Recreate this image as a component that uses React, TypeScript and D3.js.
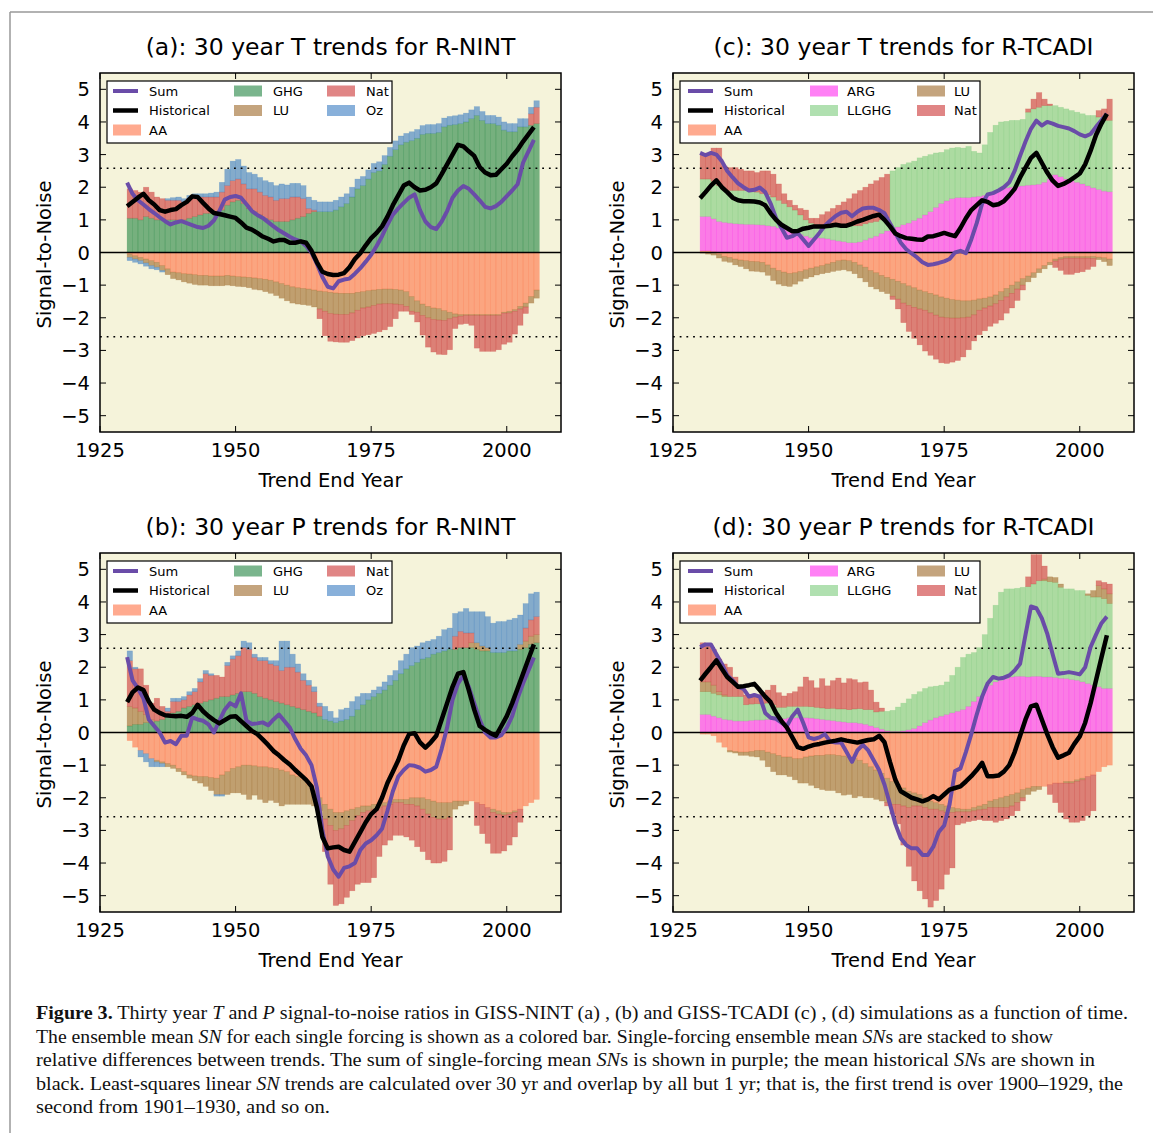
import React from 'react';
import * as d3 from 'd3';

// trend end years
const years = d3.range(1930, 2006);

// (a) T, R-NINT
const aAA = [
  -0.05, -0.1, -0.15, -0.2, -0.25, -0.3, -0.4, -0.5, -0.6, -0.62,
  -0.65, -0.66, -0.68, -0.7, -0.7, -0.72, -0.72, -0.72, -0.7, -0.72,
  -0.74, -0.75, -0.76, -0.78, -0.8, -0.82, -0.85, -0.9, -0.95, -1.0,
  -1.05, -1.08, -1.1, -1.12, -1.15, -1.18, -1.2, -1.22, -1.24, -1.25,
  -1.25, -1.25, -1.22, -1.2, -1.17, -1.15, -1.13, -1.12, -1.12, -1.13,
  -1.15, -1.2, -1.35, -1.48, -1.58, -1.65, -1.7, -1.72, -1.78, -1.83,
  -1.88, -1.9, -1.9, -1.9, -1.9, -1.9, -1.9, -1.9, -1.9, -1.83,
  -1.8, -1.75, -1.65, -1.55, -1.35, -1.15,
];
const aGHG = [
  1.05, 1.05, 1.0, 1.1, 1.05, 1.0, 1.0, 1.0, 1.0, 1.0,
  1.0, 1.05, 1.1, 1.15, 1.2, 1.2, 1.2, 1.3, 1.45, 1.55,
  1.6, 1.5, 1.35, 1.25, 1.15, 1.05, 1.0, 0.95, 0.95, 0.95,
  1.0, 1.05, 1.1, 1.2, 1.25, 1.25, 1.25, 1.25, 1.3, 1.4,
  1.5, 1.7, 1.95, 2.05, 2.25, 2.45, 2.5, 2.7, 2.95, 3.15,
  3.3, 3.38, 3.43, 3.5, 3.62, 3.65, 3.65, 3.68, 3.85, 3.9,
  3.92, 3.95, 4.0, 4.1, 4.2, 4.05, 3.95, 3.95, 3.9, 3.75,
  3.7, 3.7, 3.85, 3.85, 3.9, 3.95,
];
const aLU = [
  -0.1, -0.1, -0.1, -0.12, -0.15, -0.15, -0.15, -0.18, -0.2, -0.22,
  -0.25, -0.28, -0.3, -0.3, -0.3, -0.3, -0.3, -0.3, -0.3, -0.3,
  -0.3, -0.3, -0.32, -0.35, -0.35, -0.38, -0.4, -0.42, -0.45, -0.48,
  -0.5, -0.5, -0.5, -0.5, -0.52, -0.55, -0.6, -0.65, -0.65, -0.65,
  -0.65, -0.6, -0.55, -0.5, -0.5, -0.48, -0.45, -0.45, -0.45, -0.45,
  -0.45, -0.45, -0.45, -0.35, -0.35, -0.35, -0.35, -0.35, -0.3, -0.2,
  -0.1, -0.05, -0.03, -0.03, -0.03, -0.03, -0.03, -0.03, -0.03, -0.03,
  -0.05, -0.05, -0.08, -0.12, -0.2, -0.25,
];
const aNat = [
  0.9, 0.85, 0.85, 0.9, 0.8, 0.7, 0.65, 0.6, 0.6, 0.6,
  0.55, 0.6, 0.6, 0.55, 0.5, 0.5, 0.5, 0.55, 0.6, 0.65,
  0.65, 0.6, 0.6, 0.7, 0.7, 0.7, 0.7, 0.65, 0.7, 0.7,
  0.7, 0.65, 0.55, 0.15, 0.05, -0.3, -0.75, -0.85, -0.85, -0.85,
  -0.85, -0.85, -0.85, -0.85, -0.85, -0.85, -0.85, -0.8, -0.7, -0.45,
  -0.2, -0.15, -0.1, -0.3, -0.6, -0.9, -1.0, -1.05, -1.05, -0.95,
  -0.35, -0.25, -0.25, -0.3, -1.0, -1.1, -1.1, -1.1, -1.05, -0.95,
  -0.9, -0.7, -0.5, -0.2, 0.35, 0.5,
];
const aOz = [
  -0.1, -0.1, -0.1, -0.1, -0.1, -0.08, -0.05, 0.05, 0.08, 0.1,
  0.1, 0.1, 0.1, 0.1, 0.1, 0.12, 0.15, 0.3, 0.5, 0.6,
  0.6, 0.55, 0.5, 0.45, 0.45, 0.45, 0.45, 0.45, 0.45, 0.42,
  0.42, 0.42, 0.4, 0.35, 0.3, 0.3, 0.3, 0.3, 0.3, 0.3,
  0.3, 0.3, 0.3, 0.28, 0.28, 0.28, 0.28, 0.27, 0.27, 0.27,
  0.27, 0.27, 0.27, 0.27, 0.27, 0.27, 0.27, 0.27, 0.27, 0.27,
  0.27, 0.27, 0.27, 0.27, 0.27, 0.27, 0.25, 0.25, 0.25, 0.25,
  0.25, 0.25, 0.25, 0.25, 0.2, 0.2,
];
const aSum = [
  2.14, 1.8, 1.6, 1.47, 1.33, 1.21, 1.08, 0.96, 0.86, 0.92,
  0.96, 0.9, 0.84, 0.78, 0.75, 0.82, 0.98, 1.27, 1.62, 1.7,
  1.73, 1.68, 1.48, 1.27, 1.15, 1.06, 0.93, 0.8, 0.68, 0.58,
  0.48, 0.4, 0.34, 0.2, 0.0, -0.35, -0.75, -1.05, -1.1, -0.88,
  -0.83, -0.8, -0.65, -0.48, -0.28, -0.07, 0.2, 0.5, 0.85, 1.16,
  1.35, 1.52, 1.68, 1.78, 1.3, 0.95, 0.78, 0.72, 0.95, 1.27,
  1.68, 1.9, 2.04, 1.95, 1.78, 1.6, 1.4, 1.35, 1.42, 1.55,
  1.73, 1.9, 2.09, 2.75, 3.1, 3.45,
];
const aHist = [
  1.42, 1.55, 1.68, 1.8, 1.6, 1.47, 1.3, 1.25, 1.3, 1.33,
  1.45, 1.55, 1.72, 1.7, 1.52, 1.35, 1.21, 1.18, 1.14, 1.1,
  1.06, 0.92, 0.76, 0.7, 0.6, 0.49, 0.42, 0.34, 0.38, 0.38,
  0.3, 0.3, 0.34, 0.3, 0.05, -0.3, -0.59, -0.66, -0.69, -0.68,
  -0.63, -0.45, -0.2, -0.02, 0.22, 0.44, 0.6, 0.8, 1.1, 1.45,
  1.75, 2.05, 2.14, 2.0, 1.9, 1.92, 2.0, 2.12, 2.4, 2.7,
  3.0, 3.3, 3.25, 3.1, 2.96, 2.62, 2.45, 2.37, 2.38, 2.55,
  2.72, 2.95, 3.15, 3.4, 3.62, 3.84,
];

// (b) P, R-NINT
const bAA = [
  -0.25, -0.45, -0.55, -0.65, -0.8, -0.85, -0.9, -0.95, -1.0, -1.1,
  -1.2, -1.3, -1.33, -1.35, -1.35, -1.38, -1.4, -1.3, -1.2, -1.1,
  -1.05, -1.0, -1.0, -1.02, -1.05, -1.05, -1.08, -1.1, -1.15, -1.2,
  -1.3, -1.35, -1.45, -1.6, -1.8, -2.0, -2.2, -2.35, -2.45, -2.45,
  -2.4, -2.35, -2.3, -2.25, -2.25, -2.2, -2.2, -2.15, -2.1, -2.05,
  -2.05, -2.05, -2.0, -2.0, -2.0, -2.05, -2.1, -2.15, -2.15, -2.15,
  -2.1, -2.1, -2.1, -2.1, -2.15, -2.2, -2.3, -2.35, -2.4, -2.45,
  -2.45, -2.4, -2.35, -2.25, -2.15, -2.05,
];
const bGHG = [
  0.2, 0.25, 0.25, 0.3, 0.3, 0.35, 0.4, 0.5, 0.6, 0.65,
  0.75, 0.8, 0.85, 0.9, 0.95, 1.0, 1.05, 1.1, 1.1, 1.15,
  1.2, 1.25, 1.25, 1.2, 1.1, 1.05, 1.0, 0.95, 0.9, 0.85,
  0.8, 0.75, 0.7, 0.65, 0.6, 0.5, 0.4, 0.35, 0.3, 0.35,
  0.4, 0.5, 0.7, 0.85, 1.0, 1.1, 1.2, 1.3, 1.45, 1.6,
  1.8, 1.95, 2.05, 2.15, 2.25, 2.3, 2.4, 2.45, 2.5, 2.55,
  2.55, 2.6, 2.6, 2.6, 2.55, 2.5, 2.5, 2.45, 2.45, 2.45,
  2.5, 2.5, 2.55, 2.6, 2.7, 2.75,
];
const bLU = [
  0.6, 0.5, 0.4, 0.25, 0.1, -0.05, -0.05, -0.1, -0.1, -0.1,
  -0.1, -0.1, -0.15, -0.2, -0.3, -0.4, -0.5, -0.6, -0.7, -0.75,
  -0.8, -0.9, -1.05, -0.9, -1.0, -1.1, -1.0, -1.05, -1.1, -1.0,
  -0.9, -0.85, -0.75, -0.6, -0.45, -0.4, -0.45, -0.5, -0.55, -0.5,
  -0.45, -0.35, -0.25, -0.2, -0.15, -0.15, -0.1, -0.1, -0.1, -0.1,
  -0.1, -0.15, -0.2, -0.25, -0.35, -0.45, -0.5, -0.5, -0.5, -0.45,
  -0.25, -0.15, -0.1, 0.15, 0.2, 0.15, 0.1, -0.1, -0.1, -0.08,
  -0.05, -0.05, 0.15, 0.2, 0.25, 0.25,
];
const bNat = [
  1.4, 1.2, 1.3, 0.9, 0.5, 0.7, 0.4, 0.15, 0.35, 0.3,
  0.25, 0.35, 0.4, 0.65, 0.85, 0.75, 0.7, 0.6, 0.95, 1.1,
  1.15, 1.35, 1.3, 1.1, 1.1, 1.15, 1.1, 1.1, 1.0, 1.15,
  1.2, 1.1, 0.9, 0.8, 0.65, 0.3, -1.0, -1.8, -2.3, -2.3,
  -2.2, -2.15, -2.1, -2.15, -2.2, -2.1, -1.5, -1.2, -1.1, -1.0,
  -1.0, -1.0, -1.1, -1.25, -1.3, -1.4, -1.4, -1.35, -1.3, -1.0,
  0.4, 0.5, 0.45, 0.3, -0.7, -0.9, -1.1, -1.25, -1.2, -1.1,
  -0.95, -0.75, -0.4, 0.4, 0.5, 0.55,
];
const bOz = [
  0.3, 0.05, -0.2, -0.25, -0.25, -0.15, -0.1, 0.1, 0.1, 0.1,
  0.1, 0.1, 0.1, 0.1, 0.1, 0.05, -0.05, -0.05, 0.1, 0.1,
  0.15, 0.2, 0.2, 0.1, 0.1, 0.1, 0.1, 0.15, 0.9, 0.8,
  0.4, 0.25, 0.2, 0.15, 0.15, 0.1, 0.4, 0.3, 0.15, 0.35,
  0.35, 0.45, 0.4, 0.35, 0.2, 0.2, 0.2, 0.25, 0.3, 0.3,
  0.4, 0.45, 0.55, 0.5, 0.5, 0.5, 0.45, 0.5, 0.65, 0.65,
  0.7, 0.6, 0.75, 0.65, 0.95, 1.05, 0.95, 0.9, 0.95, 0.95,
  0.95, 1.0, 0.9, 0.75, 0.8, 0.75,
];
const bSum = [
  2.31, 1.6, 1.35, 1.05, 0.4, 0.2, 0.0, -0.31, -0.26, -0.36,
  -0.1, -0.1, 0.46, 0.4, 0.36, 0.25, 0.0, 0.36, 0.7, 0.9,
  0.8, 1.2, 0.36, 0.26, 0.28, 0.31, 0.22, 0.4, 0.55, 0.35,
  0.15, -0.2, -0.5, -0.7, -1.0, -1.7, -3.0, -3.8, -4.2, -4.42,
  -4.15, -4.1, -4.0, -3.6, -3.4, -3.3, -3.15, -2.95, -2.4, -1.8,
  -1.35, -1.15, -1.0, -1.02, -1.08, -1.2, -1.15, -1.05, -0.5, 0.15,
  1.0, 1.5, 1.75, 1.4, 0.9, 0.4, 0.0, -0.15, -0.15, -0.08,
  0.15, 0.5, 1.05, 1.5, 1.9, 2.3,
];
const bHist = [
  0.93, 1.23, 1.38, 1.3, 0.95, 0.7, 0.6, 0.53, 0.51, 0.5,
  0.51, 0.48, 0.6, 0.85, 0.65, 0.5, 0.38, 0.28, 0.38, 0.48,
  0.5, 0.35, 0.2, 0.05, -0.05, -0.21, -0.38, -0.57, -0.7, -0.85,
  -0.98, -1.15, -1.3, -1.45, -1.65, -2.31, -3.2, -3.55, -3.52, -3.5,
  -3.6, -3.65, -3.35, -3.05, -2.75, -2.5, -2.35, -2.0, -1.55, -1.2,
  -0.85, -0.4, -0.05, -0.02, -0.3, -0.46, -0.3, -0.1, 0.4, 0.9,
  1.4, 1.8, 1.85, 1.3, 0.7, 0.2, 0.08, -0.02, -0.1, 0.2,
  0.5, 0.9, 1.35, 1.8, 2.25, 2.7,
];

// (c) T, R-TCADI
const cAA = [
  0.05, 0.05, 0.03, -0.05, -0.12, -0.15, -0.2, -0.23, -0.25, -0.27,
  -0.28, -0.3, -0.38, -0.48, -0.55, -0.6, -0.64, -0.62, -0.58, -0.53,
  -0.48, -0.44, -0.4, -0.35, -0.3, -0.25, -0.23, -0.25, -0.3, -0.38,
  -0.45, -0.55, -0.62, -0.7, -0.76, -0.82, -0.88, -0.95, -1.02, -1.08,
  -1.15, -1.2, -1.25, -1.3, -1.36, -1.4, -1.44, -1.46, -1.48, -1.48,
  -1.46, -1.42, -1.4, -1.36, -1.3, -1.2, -1.1, -1.0, -0.9, -0.8,
  -0.72, -0.62, -0.5, -0.4, -0.3, -0.2, -0.15, -0.12, -0.12, -0.12,
  -0.12, -0.12, -0.12, -0.14, -0.16, -0.2,
];
const cARG = [
  1.05, 1.05, 1.0, 0.95, 0.92, 0.9, 0.88, 0.87, 0.86, 0.86,
  0.85, 0.84, 0.82, 0.8, 0.75, 0.7, 0.65, 0.6, 0.55, 0.5,
  0.45, 0.45, 0.44, 0.42, 0.38, 0.35, 0.33, 0.3, 0.3, 0.32,
  0.38, 0.44, 0.5, 0.58, 0.66, 0.72, 0.78, 0.85, 0.9, 0.98,
  1.05, 1.15, 1.25, 1.38, 1.5, 1.58, 1.65, 1.68, 1.68, 1.68,
  1.7, 1.72, 1.75, 1.78, 1.85, 1.92, 1.98, 2.0, 2.02, 2.04,
  2.06, 2.07, 2.09, 2.15, 2.25, 2.38, 2.32, 2.25, 2.2, 2.15,
  2.1, 2.04, 1.98, 1.93, 1.88, 1.86,
];
const cLLGHG = [
  1.15, 1.15, 1.15, 1.1, 1.0, 1.0, 1.02, 1.03, 1.04, 1.0,
  1.0, 0.96, 0.95, 0.9, 0.85, 0.8, 0.75, 0.7, 0.6, 0.5,
  0.45, 0.4, 0.4, 0.42, 0.45, 0.48, 0.5, 0.52, 0.52, 0.5,
  0.5, 0.48, 0.45, 0.42, 0.4, 1.78, 1.82, 1.85, 1.85, 1.82,
  1.85, 1.8, 1.75, 1.67, 1.57, 1.57, 1.55, 1.54, 1.52, 1.57,
  1.4, 1.33, 1.55, 1.9, 2.05, 2.08, 2.04, 2.05, 2.03, 2.04,
  2.24, 2.33, 2.36, 2.35, 2.25, 2.12, 2.13, 2.15, 2.15, 2.15,
  2.15, 2.16, 2.22, 2.22, 2.17, 2.19,
];
const cLU = [
  -0.02, -0.05, -0.08, -0.12, -0.15, -0.15, -0.18, -0.2, -0.25, -0.3,
  -0.3, -0.3, -0.32, -0.38, -0.42, -0.42, -0.4, -0.35, -0.3, -0.27,
  -0.27, -0.25, -0.25, -0.27, -0.28, -0.3, -0.3, -0.32, -0.35, -0.4,
  -0.45, -0.5, -0.5, -0.5, -0.5, -0.52, -0.55, -0.6, -0.6, -0.6,
  -0.58, -0.57, -0.6, -0.62, -0.62, -0.6, -0.57, -0.55, -0.52, -0.5,
  -0.45, -0.35, -0.3, -0.28, -0.27, -0.27, -0.26, -0.25, -0.22, -0.2,
  -0.18, -0.15, -0.12, -0.1, -0.08, -0.06, -0.05, -0.05, -0.05, -0.05,
  -0.05, -0.05, -0.06, -0.08, -0.12, -0.2,
];
const cNat = [
  0.75, 0.8, 1.02, 1.15, 0.73, 0.7, 0.7, 0.65, 0.6, 0.64,
  0.6, 0.7, 0.73, 0.7, 0.5, 0.3, 0.2, 0.15, 0.2, 0.3,
  0.15, 0.2, 0.32, 0.41, 0.52, 0.62, 0.72, 0.83, 0.98, 1.08,
  1.12, 1.18, 1.25, 1.3, 1.34, -0.1, -0.3, -0.6, -0.8, -0.95,
  -1.1, -1.25, -1.3, -1.35, -1.4, -1.4, -1.35, -1.3, -1.2, -1.0,
  -0.8, -0.75, -0.7, -0.62, -0.6, -0.6, -0.5, -0.45, -0.35, -0.15,
  0.1, 0.3, 0.45, 0.2, 0.05, -0.2, -0.35, -0.5, -0.5, -0.45,
  -0.42, -0.35, -0.25, 0.2, 0.35, 0.65,
];
const cSum = [
  3.05, 2.98, 3.05, 3.0, 2.8, 2.5, 2.3, 2.12, 2.0, 1.9,
  1.92, 1.99, 1.85, 1.5, 1.05, 0.75, 0.45, 0.5, 0.6, 0.4,
  0.2, 0.4, 0.6, 0.82, 0.98, 1.12, 1.22, 1.25, 1.11, 1.25,
  1.35, 1.37, 1.37, 1.3, 1.2, 0.9, 0.6, 0.3, 0.1, -0.03,
  -0.15, -0.3, -0.38, -0.36, -0.32, -0.27, -0.2, 0.0, 0.05, -0.02,
  0.4, 0.9, 1.5, 1.78, 1.82, 1.9, 2.0, 2.15, 2.5, 2.96,
  3.4, 3.79, 4.04, 3.89, 4.0, 3.95, 3.88, 3.84, 3.8, 3.72,
  3.62, 3.56, 3.63, 3.85, 4.05, 4.25,
];
const cHist = [
  1.66, 1.85, 2.05, 2.21, 2.0, 1.85, 1.68, 1.6, 1.57, 1.57,
  1.56, 1.53, 1.45, 1.2, 1.0, 0.85, 0.75, 0.65, 0.66, 0.73,
  0.76, 0.8, 0.8, 0.8, 0.82, 0.85, 0.82, 0.82, 0.88, 0.95,
  1.0, 1.06, 1.12, 1.16, 1.0, 0.8, 0.58, 0.5, 0.44, 0.42,
  0.4, 0.39, 0.49, 0.5, 0.55, 0.6, 0.55, 0.5, 0.75, 1.05,
  1.3, 1.45, 1.6, 1.55, 1.45, 1.48, 1.57, 1.75, 1.95, 2.3,
  2.6, 2.9, 3.05, 2.75, 2.45, 2.2, 2.04, 2.1, 2.19, 2.3,
  2.42, 2.7, 3.12, 3.6, 3.95, 4.25,
];

// (d) P, R-TCADI
const dAA = [
  -0.05, -0.05, -0.1, -0.3, -0.45, -0.55, -0.58, -0.6, -0.6, -0.58,
  -0.55, -0.55, -0.6, -0.65, -0.7, -0.75, -0.75, -0.8, -0.8, -0.75,
  -0.72, -0.7, -0.7, -0.68, -0.68, -0.7, -0.72, -0.75, -0.8, -0.85,
  -0.95, -1.05, -1.15, -1.25, -1.4, -1.5, -1.6, -1.7, -1.8, -1.85,
  -1.9, -2.0, -2.1, -2.15, -2.2, -2.25, -2.3, -2.33, -2.35, -2.35,
  -2.3, -2.25, -2.2, -2.1, -2.05, -2.0, -1.95, -1.9, -1.85, -1.75,
  -1.7, -1.65, -1.65, -1.65, -1.6, -1.55, -1.55, -1.5, -1.5, -1.45,
  -1.4, -1.35, -1.3, -1.2, -1.05, -1.0,
];
const dARG = [
  0.55, 0.55, 0.5, 0.45, 0.4, 0.38, 0.35, 0.35, 0.35, 0.37,
  0.38, 0.38, 0.4, 0.4, 0.42, 0.42, 0.45, 0.45, 0.45, 0.45,
  0.44, 0.42, 0.4, 0.38, 0.36, 0.34, 0.32, 0.3, 0.3, 0.28,
  0.25, 0.2, 0.15, 0.1, 0.05, 0.03, 0.03, 0.05, 0.08, 0.12,
  0.2, 0.3, 0.38, 0.45, 0.5, 0.55, 0.6, 0.65, 0.7, 0.8,
  0.95, 1.1, 1.3, 1.45, 1.55, 1.6, 1.65, 1.7, 1.72, 1.72,
  1.7, 1.72, 1.72, 1.7, 1.7, 1.68, 1.66, 1.65, 1.62, 1.6,
  1.55, 1.5, 1.45, 1.4, 1.35, 1.35,
];
const dLLGHG = [
  0.7, 0.7, 0.7, 0.7, 0.7, 0.72, 0.75, 0.75, 0.5, 0.5,
  0.5, 0.5, 0.5, 0.45, 0.35, 0.35, 0.35, 0.35, 0.35, 0.35,
  0.35, 0.35, 0.35, 0.35, 0.38, 0.38, 0.4, 0.4, 0.42, 0.45,
  0.45, 0.5, 0.48, 0.55, 0.6, 0.65, 0.75, 0.85, 0.95, 1.05,
  1.05, 1.05, 1.02, 0.97, 0.95, 1.0, 1.15, 1.35, 1.6, 1.6,
  1.5, 1.5, 1.7, 2.05, 2.35, 2.7, 2.75, 2.7, 2.7, 2.73,
  2.77, 2.83, 2.93, 2.95, 2.92, 2.92, 2.79, 2.75, 2.78, 2.75,
  2.8, 2.7, 2.7, 2.75, 2.75, 2.6,
];
const dLU = [
  0.3, 0.3, 0.25, 0.1, 0.05, -0.05, -0.05, -0.1, -0.1, -0.15,
  -0.2, -0.3, -0.45, -0.55, -0.6, -0.55, -0.6, -0.65, -0.75, -0.8,
  -0.9, -1.0, -1.05, -1.1, -1.1, -1.15, -1.2, -1.15, -1.2, -1.1,
  -1.05, -0.95, -0.9, -0.85, -0.75, -0.7, -0.6, -0.55, -0.5, -0.4,
  -0.35, -0.3, -0.25, -0.2, -0.2, -0.2, -0.15, -0.1, -0.08, -0.08,
  -0.1, -0.12, -0.15, -0.2, -0.25, -0.3, -0.35, -0.35, -0.3, -0.25,
  -0.2, -0.15, -0.1, 0.05, 0.15, 0.15, 0.1, -0.05, -0.05, -0.05,
  -0.05, 0.05, 0.2, 0.35, 0.3, 0.3,
];
const dNat = [
  1.2, 1.15, 1.1, 1.0, 0.95, 0.9, 0.6, 0.35, 0.3, 0.3,
  0.25, 0.35, 0.4, 0.6, 0.45, 0.35, 0.4, 0.45, 0.6, 0.9,
  0.8, 0.6, 0.9, 0.7, 0.85, 0.95, 0.8, 0.95, 0.9, 0.8,
  0.85, 0.6, 0.3, 0.1, -0.1, -0.3, -0.6, -1.2, -1.8, -2.3,
  -2.6, -2.8, -3.0, -2.8, -2.4, -1.9, -1.7, -0.4, -0.35, -0.3,
  -0.3, -0.3, -0.35, -0.4, -0.45, -0.4, -0.35, -0.3, -0.25, -0.1,
  0.3, 0.9, 0.8, 0.4, -0.3, -0.6, -0.9, -1.1, -1.2, -1.25,
  -1.25, -1.2, -1.1, 0.15, 0.2, 0.3,
];
const dSum = [
  2.62, 2.7, 2.7, 2.4, 2.11, 1.75, 1.6, 1.4, 1.34, 1.1,
  1.15, 1.1, 0.6, 0.45, 0.42, 0.3, 0.2, 0.5, 0.7, 0.3,
  -0.15, -0.2, -0.15, -0.05, -0.28, -0.31, -0.31, -0.6, -0.9, -0.55,
  -0.38, -0.55, -0.85, -1.15, -1.6, -2.2, -2.8, -3.24, -3.45, -3.55,
  -3.55, -3.75, -3.75, -3.5, -3.05, -2.85, -2.2, -1.18, -1.1, -0.6,
  -0.05, 0.55, 1.1, 1.5, 1.7, 1.65, 1.68, 1.75, 1.9, 2.11,
  3.0, 3.86, 3.81, 3.5, 3.03, 2.4, 1.8, 1.82, 1.85, 1.82,
  1.78, 2.0, 2.62, 3.0, 3.35, 3.55,
];
const dHist = [
  1.59, 1.8, 2.0, 2.21, 1.95, 1.7, 1.55, 1.4, 1.42, 1.45,
  1.49, 1.3, 1.1, 0.93, 0.6, 0.35, 0.15, -0.15, -0.45, -0.5,
  -0.43, -0.38, -0.35, -0.31, -0.28, -0.25, -0.21, -0.25, -0.28, -0.31,
  -0.27, -0.23, -0.21, -0.1, -0.3, -0.9, -1.45, -1.8, -1.9, -2.0,
  -2.05, -2.11, -2.05, -1.95, -2.05, -1.9, -1.75, -1.7, -1.65, -1.5,
  -1.34, -1.15, -0.93, -1.34, -1.34, -1.32, -1.2, -1.0, -0.6, -0.1,
  0.4, 0.8, 0.85, 0.4, -0.05, -0.45, -0.77, -0.7, -0.62, -0.35,
  -0.12, 0.3, 0.9, 1.6, 2.3, 2.98,
];

const colors: Record<string, string> = {
  AA: '#ff7144',
  GHG: '#218441',
  LU: '#9d6728',
  Nat: '#cb3434',
  Oz: '#397bc1',
  ARG: '#ff2bee',
  LLGHG: '#7bcb7b',
};
const sumColor = '#6a4ca8';
const bgColor = '#f5f3da';
const font = 'DejaVu Sans';

interface Series {
  name: string;
  values: number[];
}

interface Panel {
  id: string;
  title: string;
  left: number;
  top: number;
  series: Series[];
  sum: number[];
  hist: number[];
  legendW: number;
  cols: number[][];
}

const colsNINT = [[6, 42], [127, 166], [220, 259]];
const colsTCADI = [[8, 44], [130, 167], [237, 274]];

const panels: Panel[] = [
  {
    id: 'a', title: '(a): 30 year T trends for R-NINT', left: 100, top: 73,
    series: [
      { name: 'AA', values: aAA }, { name: 'GHG', values: aGHG }, { name: 'LU', values: aLU },
      { name: 'Nat', values: aNat }, { name: 'Oz', values: aOz },
    ],
    sum: aSum, hist: aHist, legendW: 285, cols: colsNINT,
  },
  {
    id: 'c', title: '(c): 30 year T trends for R-TCADI', left: 673, top: 73,
    series: [
      { name: 'AA', values: cAA }, { name: 'ARG', values: cARG }, { name: 'LLGHG', values: cLLGHG },
      { name: 'LU', values: cLU }, { name: 'Nat', values: cNat },
    ],
    sum: cSum, hist: cHist, legendW: 300, cols: colsTCADI,
  },
  {
    id: 'b', title: '(b): 30 year P trends for R-NINT', left: 100, top: 553,
    series: [
      { name: 'AA', values: bAA }, { name: 'GHG', values: bGHG }, { name: 'LU', values: bLU },
      { name: 'Nat', values: bNat }, { name: 'Oz', values: bOz },
    ],
    sum: bSum, hist: bHist, legendW: 285, cols: colsNINT,
  },
  {
    id: 'd', title: '(d): 30 year P trends for R-TCADI', left: 673, top: 553,
    series: [
      { name: 'AA', values: dAA }, { name: 'ARG', values: dARG }, { name: 'LLGHG', values: dLLGHG },
      { name: 'LU', values: dLU }, { name: 'Nat', values: dNat },
    ],
    sum: dSum, hist: dHist, legendW: 300, cols: colsTCADI,
  },
];

const W = 461;
const H = 359;
const xTicks = [1925, 1950, 1975, 2000];
const yTicks = d3.range(-5, 6);
const sigLevel = 2.58;

const ChartPanel: React.FC<{ p: Panel }> = ({ p }) => {
  const x = d3.scaleLinear().domain([1925, 2010]).range([0, W]);
  const y = d3.scaleLinear().domain([-5.5, 5.5]).range([H, 0]);
  const fmt = d3.format('d');

  // stack positives upward and negatives downward, in series order
  const bars: React.ReactNode[] = [];
  years.forEach((yr, i) => {
    let pos = 0;
    let neg = 0;
    p.series.forEach((s) => {
      const v = s.values[i];
      let lo: number, hi: number;
      if (v >= 0) {
        lo = pos; hi = pos + v; pos = hi;
      } else {
        hi = neg; lo = neg + v; neg = lo;
      }
      const c = colors[s.name];
      bars.push(
        <rect key={`${s.name}-${yr}`} x={x(yr)} width={x(yr + 1) - x(yr)} y={y(hi)} height={y(lo) - y(hi)}
          fill={c} fillOpacity={0.6} stroke={c} strokeOpacity={0.3} strokeWidth={0.6} />
      );
    });
  });

  const line = d3.line<number>().x((_, i) => x(years[i])).y((d) => y(d));

  const lx = 7;
  const ly = 8;
  const rows = [10, 29.5, 49];
  const entries: { name: string; kind: string; col: number; row: number }[] = [
    { name: 'Sum', kind: 'sum', col: 0, row: 0 },
    { name: 'Historical', kind: 'hist', col: 0, row: 1 },
    { name: p.series[0].name, kind: 'bar', col: 0, row: 2 },
    { name: p.series[1].name, kind: 'bar', col: 1, row: 0 },
    { name: p.series[2].name, kind: 'bar', col: 1, row: 1 },
    { name: p.series[3].name, kind: 'bar', col: 2, row: 0 },
    { name: p.series[4].name, kind: 'bar', col: 2, row: 1 },
  ];

  return (
    <g transform={`translate(${p.left},${p.top})`}>
      <defs>
        <clipPath id={`clip-${p.id}`}>
          <rect x={0} y={0} width={W} height={H} />
        </clipPath>
      </defs>
      <rect x={0} y={0} width={W} height={H} fill={bgColor} />
      <g clipPath={`url(#clip-${p.id})`}>
        {bars}
        <line x1={0} x2={W} y1={y(sigLevel)} y2={y(sigLevel)} stroke="#000" strokeWidth={1.6} strokeDasharray="1.8,4.9" />
        <line x1={0} x2={W} y1={y(-sigLevel)} y2={y(-sigLevel)} stroke="#000" strokeWidth={1.6} strokeDasharray="1.8,4.9" />
        <line x1={0} x2={W} y1={y(0)} y2={y(0)} stroke="#000" strokeWidth={1.5} />
        <path d={line(p.sum) || ''} fill="none" stroke={sumColor} strokeWidth={4} strokeLinejoin="round" />
        <path d={line(p.hist) || ''} fill="none" stroke="#000" strokeWidth={4.5} strokeLinejoin="round" />
      </g>

      {/* legend */}
      <g transform={`translate(${lx},${ly})`} fontFamily={font} fontSize={13}>
        <rect x={0} y={0} width={p.legendW} height={62} fill="#fff" stroke="#000" strokeWidth={1.2} />
        {entries.map((e) => {
          const [hx, tx] = p.cols[e.col];
          const cy = rows[e.row];
          return (
            <g key={e.name}>
              {e.kind === 'bar' ? (
                <rect x={hx} y={cy - 5.5} width={28} height={11} fill={colors[e.name]} fillOpacity={0.6} />
              ) : (
                <line x1={hx} x2={hx + 25} y1={cy} y2={cy} stroke={e.kind === 'sum' ? sumColor : '#000'} strokeWidth={e.kind === 'sum' ? 4 : 4.5} />
              )}
              <text x={tx} y={cy} dy="0.35em" fill="#000">{e.name}</text>
            </g>
          );
        })}
      </g>

      {/* frame and ticks */}
      <rect x={0} y={0} width={W} height={H} fill="none" stroke="#000" strokeWidth={1.5} />
      {yTicks.map((t) => (
        <g key={`yt${t}`}>
          <line x1={0} x2={6} y1={y(t)} y2={y(t)} stroke="#000" strokeWidth={1} />
          <line x1={W - 6} x2={W} y1={y(t)} y2={y(t)} stroke="#000" strokeWidth={1} />
          <text x={-10} y={y(t)} dy="0.36em" textAnchor="end" fontFamily={font} fontSize={19.5} fill="#000">{fmt(t)}</text>
        </g>
      ))}
      {xTicks.map((t) => (
        <g key={`xt${t}`}>
          <line x1={x(t)} x2={x(t)} y1={H} y2={H - 6} stroke="#000" strokeWidth={1} />
          <line x1={x(t)} x2={x(t)} y1={0} y2={6} stroke="#000" strokeWidth={1} />
          <text x={x(t)} y={H + 25} textAnchor="middle" fontFamily={font} fontSize={19.5} fill="#000">{t}</text>
        </g>
      ))}
      <text x={W / 2} y={H + 55} textAnchor="middle" fontFamily={font} fontSize={19.5} fill="#000">Trend End Year</text>
      <text transform={`translate(-49,${H / 2 + 2}) rotate(-90)`} textAnchor="middle" fontFamily={font} fontSize={19.5} fill="#000">Signal-to-Noise</text>
      <text x={W / 2} y={-18} textAnchor="middle" fontFamily={font} fontSize={23.5} fill="#000">{p.title}</text>
    </g>
  );
};

// caption, one entry per printed line: [text, style]
const captionLines: [string, string][][] = [
  [['Figure 3.', 'b'], [' Thirty year ', 'n'], ['T', 'i'], [' and ', 'n'], ['P', 'i'],
    [' signal-to-noise ratios in GISS-NINT (a) , (b) and GISS-TCADI (c) , (d) simulations as a function of time.', 'n']],
  [['The ensemble mean ', 'n'], ['SN', 'i'], [' for each single forcing is shown as a colored bar. Single-forcing ensemble mean ', 'n'],
    ['SN', 'i'], ['s are stacked to show', 'n']],
  [['relative differences between trends. The sum of single-forcing mean ', 'n'], ['SN', 'i'],
    ['s is shown in purple; the mean historical ', 'n'], ['SN', 'i'], ['s are shown in', 'n']],
  [['black. Least-squares linear ', 'n'], ['SN', 'i'],
    [' trends are calculated over 30 yr and overlap by all but 1 yr; that is, the first trend is over 1900–1929, the', 'n']],
  [['second from 1901–1930, and so on.', 'n']],
];
const captionWidths = [1092, 1017, 1059, 1087, 294];

const App: React.FC = () => {
  return (
    <svg width={1153} height={1133} style={{ position: 'absolute', left: 0, top: 0, background: '#fff' }}>
      <line x1={10} x2={1153} y1={12} y2={12} stroke="#999" strokeWidth={1.5} />
      <line x1={10} x2={10} y1={12} y2={1133} stroke="#999" strokeWidth={1.5} />
      {panels.map((p) => <ChartPanel key={p.id} p={p} />)}
      <g fontFamily="Liberation Serif" fontSize={19} fill="#111">
        {captionLines.map((segs, li) => (
          <text key={li} x={36} y={1019 + li * 23.5} textLength={captionWidths[li]} lengthAdjust="spacingAndGlyphs">
            {segs.map(([t, s], si) => (
              <tspan key={si} fontWeight={s === 'b' ? 'bold' : 'normal'} fontStyle={s === 'i' ? 'italic' : 'normal'}>{t}</tspan>
            ))}
          </text>
        ))}
      </g>
    </svg>
  );
};

export default App;
